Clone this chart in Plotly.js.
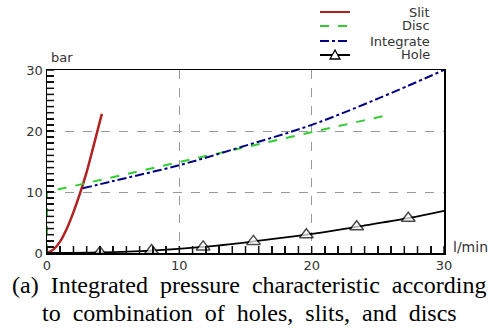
<!DOCTYPE html>
<html>
<head>
<meta charset="utf-8">
<script src="https://cdn.plot.ly/plotly-3.0.1.min.js"></script>
<style>html,body{margin:0;padding:0;background:#fff;}#chart{width:493px;height:331px;}</style>
</head>
<body>
<div id="chart"></div>
<script>
// ---- data ----
var slitX = [0, 0.5, 1, 1.5, 2, 2.5, 3, 3.5, 4, 4.15];
var slitY = [0, 0.6, 1.9, 4.0, 6.7, 9.8, 13.3, 17.4, 21.6, 22.8];

var discX = [0, 0, 25.7];
var discY = [0, 10, 22.6];

var integX = [2.7, 5, 10, 15, 20, 25, 30];
var integY = [10.6, 11.8, 14.4, 17.6, 21.0, 25.3, 30.0];

var holeX = [0, 4, 7.9, 11.8, 15.6, 19.6, 23.4, 27.3, 30];
var holeY = [0, 0.1, 0.4, 1.0, 1.9, 3.0, 4.3, 5.7, 6.9];
var holeMarked = [false, true, true, true, true, true, true, true, false];

var seriesNames = ['Slit', 'Disc', 'Integrate', 'Hole'];
var axisMin = 0, axisMax = 30, majorStep = 10, minorStep = 1;
var captionLines = ['(a)\u00a0\u00a0Integrated\u00a0\u00a0pressure\u00a0\u00a0characteristic\u00a0\u00a0according',
                    'to\u00a0\u00a0combination\u00a0\u00a0of\u00a0\u00a0holes,\u00a0\u00a0slits,\u00a0\u00a0and\u00a0\u00a0discs'];

// ---- layout geometry ----
var W = 493, H = 331;
var M = {l: 47, r: 49, t: 70, b: 78};
var PW = W - M.l - M.r, PH = H - M.t - M.b;
function px(x) { return (x - M.l) / PW; }
function py(y) { return (H - M.b - y) / PH; }

var colors = ['#b22222', '#33cc33', '#000080', '#000000'];
var dashes = ['solid', 'dash', 'dashdot', 'solid'];
var widths = [2.5, 2, 2, 1.8];

var traces = [
  {x: slitX, y: slitY, mode: 'lines', line: {color: colors[0], width: widths[0], shape: 'spline'}, name: seriesNames[0]},
  {x: discX, y: discY, mode: 'lines', line: {color: colors[1], width: widths[1], dash: dashes[1]}, name: seriesNames[1]},
  {x: integX, y: integY, mode: 'lines', line: {color: colors[2], width: widths[2], dash: dashes[2], shape: 'spline'}, name: seriesNames[2]},
  {x: holeX, y: holeY, mode: 'lines+markers', line: {color: colors[3], width: widths[3], shape: 'spline'},
   marker: {symbol: 'triangle-up', size: holeMarked.map(function (m) { return m ? 12 : 0; }), color: '#ffffff', line: {color: '#000', width: 1.5}},
   name: seriesNames[3]}
];

// inside tick marks every minor step, built from the axis range (drawn on top)
var TICK_PX = 7;
var tickLenY = TICK_PX * (axisMax - axisMin) / PH;
var tickLenX = TICK_PX * (axisMax - axisMin) / PW;
var tX = [], tY = [];
for (var v = axisMin; v <= axisMax; v += minorStep) {
  tX.push(v, v, null); tY.push(axisMin, axisMin + tickLenY, null);
  tX.push(axisMin, axisMin + tickLenX, null); tY.push(v, v, null);
}
traces.push({x: tX, y: tY, mode: 'lines', line: {color: '#111111', width: 1.5}, hoverinfo: 'skip', showlegend: false, connectgaps: false});

var shapes = [], annotations = [];

// custom legend (right-aligned labels)
var legendRows = [12, 26, 41, 55];
seriesNames.forEach(function (n, i) {
  shapes.push({type: 'line', xref: 'paper', yref: 'paper', x0: px(320), x1: px(350), y0: py(legendRows[i]), y1: py(legendRows[i]),
               line: {color: colors[i], width: 2, dash: dashes[i]}});
  annotations.push({xref: 'paper', yref: 'paper', x: px(431), y: py(legendRows[i]), xanchor: 'right', yanchor: 'middle',
                    text: n, showarrow: false, borderpad: 0, font: {family: 'DejaVu Sans', size: 13, color: '#333'}});
});
// triangle on Hole legend sample
var tx = 335, ty = legendRows[3];
shapes.push({type: 'path', xref: 'paper', yref: 'paper',
  path: 'M ' + px(tx - 5) + ' ' + py(ty + 4) + ' L ' + px(tx + 5) + ' ' + py(ty + 4) + ' L ' + px(tx) + ' ' + py(ty - 5) + ' Z',
  fillcolor: '#fff', line: {color: '#000', width: 1.3}});

annotations.push({xref: 'paper', yref: 'paper', x: px(49), y: py(58), xanchor: 'left', yanchor: 'middle', text: 'bar', showarrow: false,
                  font: {family: 'DejaVu Sans', size: 13, color: '#333'}});
annotations.push({xref: 'paper', yref: 'paper', x: px(451), y: py(247), xanchor: 'left', yanchor: 'middle', text: 'l/min', showarrow: false,
                  font: {family: 'DejaVu Sans', size: 14, color: '#333'}});
var capY = [285, 313];
captionLines.forEach(function (t, i) {
  annotations.push({xref: 'paper', yref: 'paper', x: px(249), y: py(capY[i]), xanchor: 'center', yanchor: 'middle', text: t, showarrow: false,
                    font: {family: 'Liberation Serif', size: 24, color: '#000'}});
});

function makeAxis() {
  return {
    range: [axisMin, axisMax], tickmode: 'linear', tick0: axisMin, dtick: majorStep,
    showline: true, linecolor: '#000', linewidth: 1.5, mirror: true,
    ticks: 'inside', ticklen: 7, tickcolor: '#111', tickwidth: 1.5,
    minor: {dtick: minorStep, ticks: 'inside', ticklen: 7, tickcolor: '#111', tickwidth: 1.5},
    showgrid: true, gridcolor: '#999', griddash: 'dash', gridwidth: 1,
    zeroline: false, tickfont: {family: 'DejaVu Sans', size: 13, color: '#333'}
  };
}
var layout = {
  width: W, height: H, margin: M, showlegend: false,
  xaxis: makeAxis(), yaxis: makeAxis(),
  shapes: shapes, annotations: annotations
};
Plotly.newPlot('chart', traces, layout, {staticPlot: true});
</script>
</body>
</html>
